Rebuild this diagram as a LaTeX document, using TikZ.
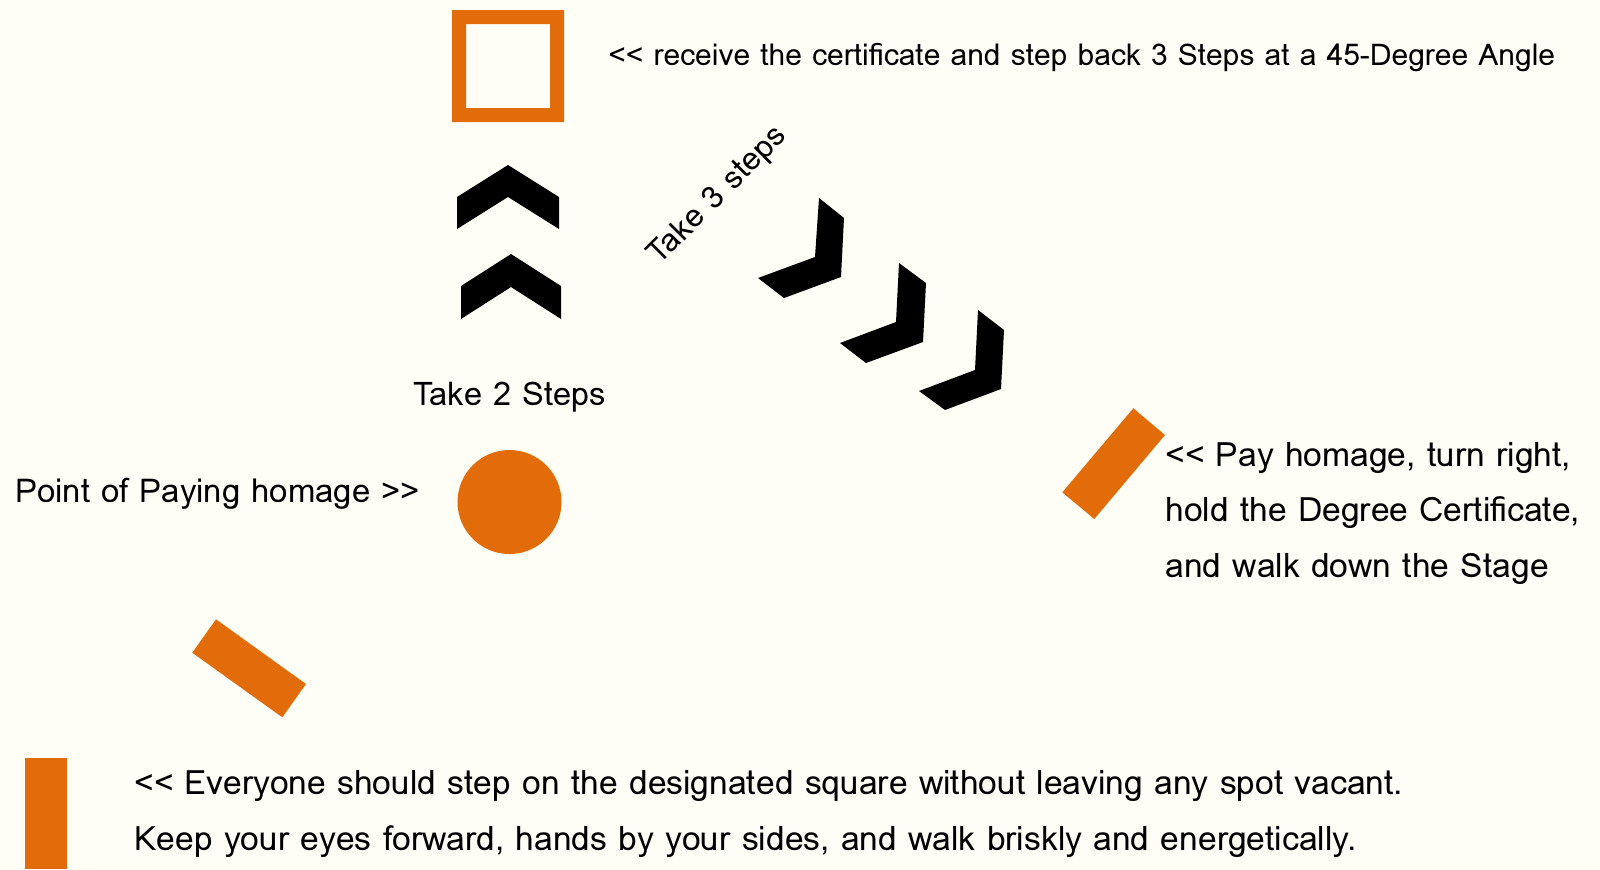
\documentclass[tikz,border=0pt]{standalone}
\usepackage{fontspec}
\setmainfont{Loma}[Ligatures=TeXOff]
\definecolor{bg}{HTML}{FEFDF6}
\definecolor{org}{HTML}{E36C0A}
\newcommand{\dblless}{<\kern0pt<}
\newcommand{\dblgreater}{>\kern0pt>}
\begin{document}
\begin{tikzpicture}[x=0.5pt,y=-0.5pt,
  lbl/.style={anchor=base west,inner sep=0pt,font=\fontsize{16.8}{20}\selectfont,text=black},
  toplbl/.style={anchor=base west,inner sep=0pt,font=\fontsize{15.0}{20}\selectfont,text=black},
  bigl/.style={anchor=base west,inner sep=0pt,font=\fontsize{16.3}{20}\selectfont,text=black},
  orangefill/.style={fill=org,draw=none},
  chev/.style={fill=black,draw=none}]
\fill[bg] (0,0) rectangle (1600,869);
\useasboundingbox (0,0) rectangle (1600,869);
% square
\fill[org,even odd rule] (452,10) rectangle (564,122) (466,24) rectangle (550,108);
% up chevrons
\fill[chev] (457,197) -- (508,165) -- (559,197) -- (559,229) -- (508,197) -- (457,229) -- cycle;
\fill[chev] (461,286) -- (511,254) -- (561,286) -- (561,319) -- (511,287) -- (461,319) -- cycle;
% diagonal chevrons
\fill[chev] (819,198) -- (844,218) -- (841,277) -- (784,298) -- (758,278) -- (815,257) -- cycle;
\fill[chev] (899,263) -- (926,283) -- (923,342) -- (866,363) -- (840,343) -- (896,322) -- cycle;
\fill[chev] (978,310) -- (1004,330) -- (1001,389) -- (945,410) -- (919,391) -- (975,370) -- cycle;
% circle
\fill[orangefill] (509.5,502) circle[radius=52];
% rotated bars
\fill[orangefill] (1133.3,408.3) -- (1165,435) -- (1094.3,519) -- (1062.3,492.3) -- cycle;
\fill[orangefill] (216,619.3) -- (306,684) -- (282.3,717.3) -- (192.3,652.7) -- cycle;
\fill[orangefill] (25,758) rectangle (67,869);
% texts
\node[toplbl] (t1) at (608,65) {\dblless{} receive the certificate and step back 3 Steps at a 45-Degree Angle};
\node[bigl] (t2) at (413,405) {Take 2 Steps};
\node[bigl,anchor=center,rotate=45,font=\fontsize{15.8}{20}\selectfont] (t3) at (718,196) {Take 3 steps};
\node[lbl,font=\fontsize{16.45}{20}\selectfont] (t4) at (15,502) {Point of Paying homage \dblgreater};
\node[lbl] (t5a) at (1165,466) {\dblless{} Pay homage, turn right,};
\node[lbl] (t5b) at (1165,521.5) {hold the Degree Certificate,};
\node[lbl] (t5c) at (1165,577) {and walk down the Stage};
\node[lbl] (t6a) at (134,794) {\dblless{} Everyone should step on the designated square without leaving any spot vacant.};
\node[lbl] (t6b) at (134,850) {Keep your eyes forward, hands by your sides, and walk briskly and energetically.};
\end{tikzpicture}
\end{document}
